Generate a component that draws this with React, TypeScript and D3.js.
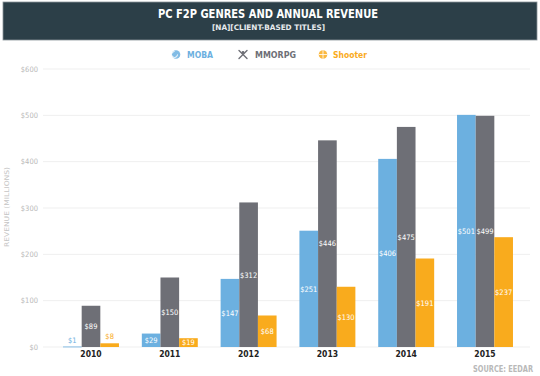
import React from "react";
import * as d3 from "d3";

const years = ["2010", "2011", "2012", "2013", "2014", "2015"];
const seriesNames = ["MOBA", "MMORPG", "Shooter"];
const mobaValues = [1, 29, 147, 251, 406, 501];
const mmorpgValues = [89, 150, 312, 446, 475, 499];
const shooterValues = [8, 19, 68, 130, 191, 237];
const yTicks = [0, 100, 200, 300, 400, 500, 600];
const colors = ["#6cb0e0", "#6e6f76", "#f9ab1d"];

const W = 540;
const H = 376;
const FONT = "'DejaVu Sans Condensed', 'Liberation Sans Narrow', 'Roboto', sans-serif";

export default function App() {
  const seriesValues = [mobaValues, mmorpgValues, shooterValues];
  const y = d3.scaleLinear().domain([0, 600]).range([347, 69]);
  const x = d3
    .scaleBand<string>()
    .domain(years)
    .range([51.6, 524.4])
    .paddingInner(0.29)
    .paddingOuter(0.145);
  const xs = d3.scaleBand<string>().domain(seriesNames).range([0, x.bandwidth()]);

  const legendItems = [
    { name: "MOBA", icon: 176, tx: 187, tw: 26 },
    { name: "MMORPG", icon: 243, tx: 255, tw: 41 },
    { name: "Shooter", icon: 323, tx: 333, tw: 34 },
  ];

  return (
    <svg
      width={W}
      height={H}
      style={{ position: "absolute", left: 0, top: 0, background: "#fff" }}
      fontFamily={FONT}
    >
      {/* header */}
      <rect x={3} y={2} width={534} height={38} fill="#2c3f48" stroke="#8a959a" strokeWidth={0.8} />
      <text
        x={268}
        y={18.3}
        textAnchor="middle"
        fill="#fff"
        fontWeight="bold"
        fontSize={11.5}
        textLength={220}
        lengthAdjust="spacingAndGlyphs"
      >
        PC F2P GENRES AND ANNUAL REVENUE
      </text>
      <text
        x={268.5}
        y={30}
        textAnchor="middle"
        fill="#e8ecee"
        fontWeight="bold"
        fontSize={7.5}
        textLength={113}
        lengthAdjust="spacingAndGlyphs"
      >
        [NA][CLIENT-BASED TITLES]
      </text>

      {/* legend */}
      {legendItems.map((it, i) => (
        <g key={it.name}>
          {i === 0 && (
            <g>
              <circle cx={it.icon} cy={54.5} r={4.3} fill={colors[0]} opacity={0.85} />
              <path d={`M${it.icon - 1.5},${51.5} a3,3 0 1,0 3,3`} fill="none" stroke="#fff" strokeWidth={1} />
            </g>
          )}
          {i === 1 && (
            <g stroke={colors[1]} strokeWidth={1.4} strokeLinecap="round">
              <line x1={it.icon - 4} y1={50.5} x2={it.icon + 4} y2={58.5} />
              <line x1={it.icon + 4} y1={50.5} x2={it.icon - 4} y2={58.5} />
              <circle cx={it.icon} cy={52.5} r={1.4} fill={colors[1]} stroke="none" />
            </g>
          )}
          {i === 2 && (
            <g>
              <circle cx={it.icon} cy={54.5} r={4.3} fill={colors[2]} opacity={0.85} />
              <line x1={it.icon - 4.3} y1={54.5} x2={it.icon + 4.3} y2={54.5} stroke="#fff" strokeWidth={0.8} />
              <line x1={it.icon} y1={50.2} x2={it.icon} y2={58.8} stroke="#fff" strokeWidth={0.8} />
            </g>
          )}
          <text
            x={it.tx}
            y={57.8}
            fill={colors[i]}
            fontWeight="bold"
            fontSize={8.5}
            textLength={it.tw}
            lengthAdjust="spacingAndGlyphs"
          >
            {it.name}
          </text>
        </g>
      ))}

      {/* gridlines and y ticks */}
      {yTicks.map((t) => (
        <g key={t}>
          <line x1={43} x2={530} y1={y(t)} y2={y(t)} stroke="#efefef" strokeWidth={1} />
          <text
            x={38}
            y={y(t) + 2.6}
            textAnchor="end"
            fill="#b9b9b9"
            fontSize={7.5}
          >
            {"$" + t}
          </text>
        </g>
      ))}

      {/* y axis title */}
      <text
        transform={`translate(9,207) rotate(-90)`}
        textAnchor="middle"
        fill="#c4c4c4"
        fontSize={6.5}
        textLength={80}
        lengthAdjust="spacingAndGlyphs"
      >
        REVENUE (MILLIONS)
      </text>

      {/* bars */}
      {years.map((yr, yi) => (
        <g key={yr} transform={`translate(${x(yr)},0)`}>
          {seriesNames.map((s, si) => {
            const v = seriesValues[si][yi];
            const bx = xs(s) as number;
            const bw = xs.bandwidth();
            const top = y(v);
            const h = y(0) - top;
            const small = v < 10;
            return (
              <g key={s}>
                <rect x={bx} y={top} width={bw} height={Math.max(h, 0.8)} fill={colors[si]} />
                <text
                  x={bx + bw / 2}
                  y={small ? top - 4 : top + h / 2 + 2.8}
                  textAnchor="middle"
                  fill={small ? colors[si] : "#fff"}
                  fontSize={7.5}
                >
                  {"$" + v}
                </text>
              </g>
            );
          })}
          <text
            x={x.bandwidth() / 2}
            y={357}
            textAnchor="middle"
            fill="#222"
            fontWeight="bold"
            fontSize={8.5}
          >
            {yr}
          </text>
        </g>
      ))}

      {/* source */}
      <text
        x={533}
        y={372}
        textAnchor="end"
        fill="#b9b9b9"
        fontWeight="bold"
        fontSize={8}
        textLength={60}
        lengthAdjust="spacingAndGlyphs"
      >
        SOURCE: EEDAR
      </text>
    </svg>
  );
}
